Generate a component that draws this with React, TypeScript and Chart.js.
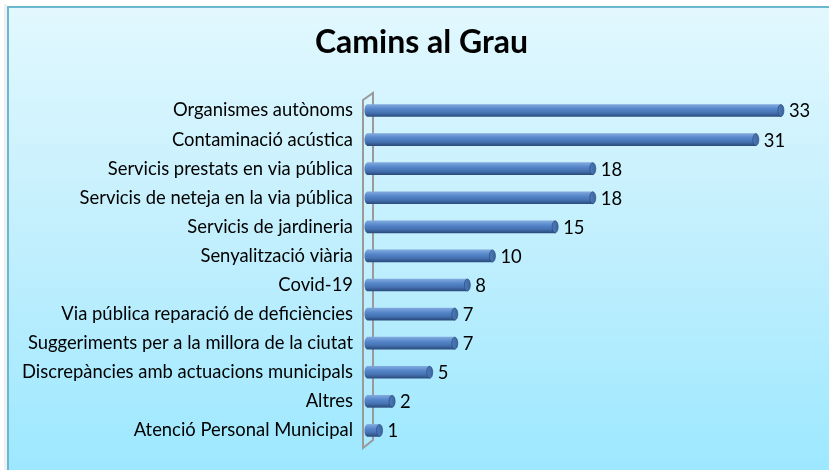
import React, { useEffect, useRef } from "react";
import { Chart, registerables } from "chart.js";

Chart.register(...registerables);

const categories = [
  "Organismes autònoms",
  "Contaminació acústica",
  "Servicis prestats en via pública",
  "Servicis de neteja en la via pública",
  "Servicis de jardineria",
  "Senyalització viària",
  "Covid-19",
  "Via pública reparació de deficiències",
  "Suggeriments per a la millora de la ciutat",
  "Discrepàncies amb actuacions municipals",
  "Altres",
  "Atenció Personal Municipal",
];
const values = [33, 31, 18, 18, 15, 10, 8, 7, 7, 5, 2, 1];
const xMin = 0;
const xMax = 35;
const chartTitle = "Camins al Grau";

const FONT = 'Lato, "Open Sans", "DejaVu Sans", sans-serif';

function fitFont(text: string, weight: string, target: number): number {
  const c = document.createElement("canvas");
  const g = c.getContext("2d")!;
  g.font = `${weight} 100px ${FONT}`;
  const w = g.measureText(text).width;
  return (100 * target) / w;
}

function barGradient(ctx: CanvasRenderingContext2D, yc: number, ry: number) {
  const g = ctx.createLinearGradient(0, yc - ry, 0, yc + ry);
  g.addColorStop(0, "#80a8dd");
  g.addColorStop(0.35, "#5787cb");
  g.addColorStop(0.7, "#4471b0");
  g.addColorStop(1, "#2b4c7e");
  return g;
}

export default function App() {
  const ref = useRef<HTMLCanvasElement>(null);

  useEffect(() => {
    const canvas = ref.current!;
    const longest = categories.reduce((a, b) => (a.length > b.length ? a : b));
    const labelSize = Math.round(fitFont(longest, "normal", 325) * 10) / 10;
    const titleSize = Math.round(fitFont(chartTitle, "bold", 213) * 10) / 10;

    const bgPlugin = {
      id: "bgFrame",
      beforeDraw(chart: any) {
        const ctx = chart.ctx;
        const W = chart.width;
        const H = chart.height;
        ctx.save();
        ctx.fillStyle = "#ffffff";
        ctx.fillRect(0, 0, W, H);
        ctx.fillStyle = "rgba(0,0,0,0.06)";
        ctx.fillRect(4, 4, 3, H);
        const g = ctx.createLinearGradient(0, 6, 0, H);
        g.addColorStop(0, "#e2f8fe");
        g.addColorStop(0.5, "#c2effd");
        g.addColorStop(1, "#9de8ff");
        ctx.fillStyle = g;
        ctx.fillRect(7, 6, W, H);
        ctx.strokeStyle = "#6ab7cf";
        ctx.lineWidth = 2;
        ctx.strokeRect(8, 7, W + 10, H + 10);
        ctx.restore();
      },
    };

    const titlePlugin = {
      id: "titleText",
      afterDraw(chart: any) {
        const ctx = chart.ctx;
        ctx.save();
        ctx.font = `bold ${titleSize}px ${FONT}`;
        ctx.fillStyle = "#000000";
        ctx.textAlign = "center";
        ctx.textBaseline = "alphabetic";
        ctx.fillText(chartTitle, 421.5, 53);
        ctx.restore();
      },
    };

    const wallPlugin = {
      id: "wall",
      beforeDatasetsDraw(chart: any) {
        const { ctx, chartArea } = chart;
        const l = chartArea.left;
        const t = chartArea.top;
        const b = chartArea.bottom;
        ctx.save();
        ctx.strokeStyle = "#9a9a9a";
        ctx.lineWidth = 2;
        ctx.fillStyle = "rgba(255,255,255,0.08)";
        ctx.beginPath();
        ctx.moveTo(l - 4, t + 4);
        ctx.lineTo(l + 6, t - 3);
        ctx.lineTo(l + 6, b - 5);
        ctx.lineTo(l - 4, b + 3);
        ctx.closePath();
        ctx.fill();
        ctx.stroke();
        ctx.restore();
      },
    };

    const capsPlugin = {
      id: "caps",
      afterDatasetsDraw(chart: any) {
        const ctx = chart.ctx;
        const meta = chart.getDatasetMeta(0);
        ctx.save();
        meta.data.forEach((bar: any, i: number) => {
          const yc = bar.y;
          const ry = bar.height / 2;
          const base = bar.base;
          ctx.fillStyle = barGradient(ctx, yc, ry);
          ctx.beginPath();
          ctx.ellipse(base, yc, 2.5, ry, 0, Math.PI / 2, (Math.PI * 3) / 2);
          ctx.fill();
          const gc = ctx.createLinearGradient(bar.x - 3, 0, bar.x + 3, 0);
          gc.addColorStop(0, "#4d7bbb");
          gc.addColorStop(1, "#3b659f");
          ctx.fillStyle = gc;
          ctx.beginPath();
          ctx.ellipse(bar.x, yc, 3, ry, 0, 0, Math.PI * 2);
          ctx.fill();
          ctx.strokeStyle = "rgba(40,70,115,0.8)";
          ctx.lineWidth = 0.8;
          ctx.stroke();
          ctx.fillStyle = "#000000";
          ctx.font = `${labelSize}px ${FONT}`;
          ctx.textAlign = "left";
          ctx.textBaseline = "middle";
          ctx.fillText(String(values[i]), bar.x + 8, yc + 1);
        });
        ctx.restore();
      },
    };

    const chart = new Chart(canvas, {
      type: "bar",
      data: {
        labels: categories,
        datasets: [
          {
            data: values,
            barThickness: 12,
            borderWidth: 0,
            backgroundColor: (c: any) => {
              const ch = c.chart;
              const ys = ch.scales && ch.scales.y;
              if (!ys || c.dataIndex === undefined) return "#4f81bd";
              const yc = ys.getPixelForValue(c.dataIndex);
              if (!Number.isFinite(yc)) return "#4f81bd";
              return barGradient(ch.ctx, yc, 6);
            },
          },
        ],
      },
      options: {
        indexAxis: "y",
        responsive: false,
        animation: false,
        devicePixelRatio: 1,
        layout: { padding: { top: 96, bottom: 24, left: 0, right: 23 } },
        plugins: {
          legend: { display: false },
          title: { display: false },
          tooltip: { enabled: false },
        },
        scales: {
          x: { display: false, min: xMin, max: xMax },
          y: {
            grid: { display: false, drawTicks: false },
            border: { display: false },
            ticks: {
              color: "#000000",
              padding: 14,
              font: { family: FONT, size: labelSize },
            },
            afterFit: (s: any) => {
              s.width = 367;
            },
          },
        },
      },
      plugins: [bgPlugin, wallPlugin, capsPlugin, titlePlugin],
    } as any);

    return () => chart.destroy();
  }, []);

  return (
    <div style={{ position: "fixed", left: 0, top: 0, width: 829, height: 470 }}>
      <canvas ref={ref} width={829} height={470} style={{ display: "block", width: 829, height: 470 }} />
    </div>
  );
}
